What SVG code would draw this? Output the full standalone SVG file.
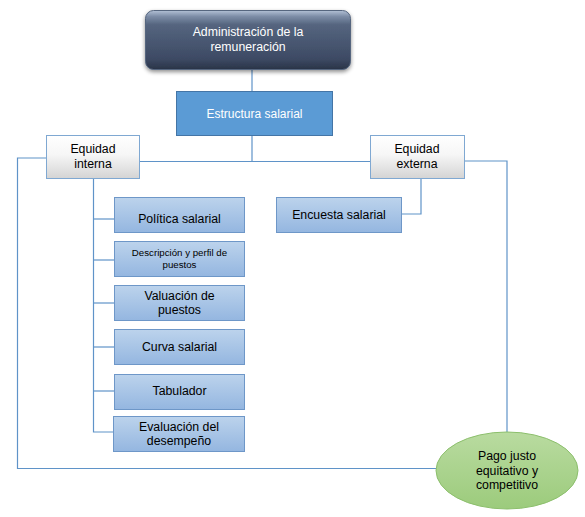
<svg xmlns="http://www.w3.org/2000/svg" width="585" height="517" viewBox="0 0 585 517">
<defs>
<linearGradient id="gTop" x1="0" y1="0" x2="0" y2="1">
<stop offset="0" stop-color="#b3c1d6"/>
<stop offset="0.1" stop-color="#7d8da7"/>
<stop offset="0.24" stop-color="#55657f"/>
<stop offset="0.82" stop-color="#3d4a64"/>
<stop offset="1" stop-color="#2a3447"/>
</linearGradient>
<linearGradient id="gEq" x1="0" y1="0" x2="0" y2="1">
<stop offset="0" stop-color="#ffffff"/>
<stop offset="0.45" stop-color="#f6f6f6"/>
<stop offset="1" stop-color="#d4d4d4"/>
</linearGradient>
<linearGradient id="gBlue" x1="0" y1="0" x2="0" y2="1">
<stop offset="0" stop-color="#bcd3ec"/>
<stop offset="1" stop-color="#94b6e0"/>
</linearGradient>
<linearGradient id="gGreen" x1="0" y1="0" x2="0" y2="1">
<stop offset="0" stop-color="#b9dba0"/>
<stop offset="1" stop-color="#9ccb7c"/>
</linearGradient>
<filter id="shadow" x="-10%" y="-10%" width="120%" height="140%">
<feGaussianBlur in="SourceAlpha" stdDeviation="2"/>
<feOffset dx="0" dy="2"/>
<feComponentTransfer><feFuncA type="linear" slope="0.45"/></feComponentTransfer>
<feMerge><feMergeNode/><feMergeNode in="SourceGraphic"/></feMerge>
</filter>
</defs>
<style>
text{font-family:"Liberation Sans",Arial,sans-serif;font-size:12.3px;text-anchor:middle;fill:#000}
.w{fill:#fff}
.conn{fill:none;stroke:#5f93c8;stroke-width:1.2}
.eq{fill:url(#gEq);stroke:#7fa8d2;stroke-width:1}
.bl{fill:url(#gBlue);stroke:#6e97c8;stroke-width:1}
.sm{font-size:9.7px}
</style>
<rect width="585" height="517" fill="#fff"/>
<g id="connectors">
<path class="conn" d="M252 69V91"/>
<path class="conn" d="M252 136V161.5H139"/>
<path class="conn" d="M252 161.5H370"/>
<path class="conn" d="M46 158H17.5V468.5H436"/>
<path class="conn" d="M464 161H507V432"/>
<path class="conn" d="M421 179V214H402"/>
<path class="conn" d="M93.5 179V432H113"/>
<path class="conn" d="M93.5 219H114"/>
<path class="conn" d="M93.5 260H114"/>
<path class="conn" d="M93.5 303H114"/>
<path class="conn" d="M93.5 347H114"/>
<path class="conn" d="M93.5 391H114"/>
</g>
<g id="n-admin">
<rect x="145.5" y="10.5" width="205" height="59" rx="8" fill="url(#gTop)" stroke="#56667f" stroke-width="1" filter="url(#shadow)"/>
<text class="w" x="248" y="36" font-size="12.2">Administración de la</text>
<text class="w" x="248" y="50.5" font-size="12.2">remuneración</text>
</g>
<g id="n-estructura">
<rect x="176.5" y="91.5" width="156" height="44" fill="#5b9bd5" stroke="#4475a6" stroke-width="1"/>
<text class="w" x="254.5" y="117.5" style="font-size:12px">Estructura salarial</text>
</g>
<g id="n-eqint">
<rect class="eq" x="46.5" y="135.5" width="93" height="43"/>
<text x="93" y="152.5">Equidad</text>
<text x="93" y="168">interna</text>
</g>
<g id="n-eqext">
<rect class="eq" x="370.5" y="135.5" width="94" height="43"/>
<text x="417" y="152.5">Equidad</text>
<text x="417" y="168">externa</text>
</g>
<g id="n-encuesta">
<rect class="bl" x="276.5" y="197.5" width="125" height="35"/>
<text x="339" y="219">Encuesta salarial</text>
</g>
<g id="n-politica">
<rect class="bl" x="114.5" y="197.5" width="130" height="35"/>
<text x="179.5" y="223">Política salarial</text>
</g>
<g id="n-descripcion">
<rect class="bl" x="114.5" y="241.5" width="130" height="35"/>
<text class="sm" x="179.5" y="256">Descripción y perfil de</text>
<text class="sm" x="179.5" y="268">puestos</text>
</g>
<g id="n-valuacion">
<rect class="bl" x="114.5" y="285.5" width="130" height="35"/>
<text x="179.5" y="300">Valuación de</text>
<text x="179.5" y="314">puestos</text>
</g>
<g id="n-curva">
<rect class="bl" x="114.5" y="329.5" width="130" height="35"/>
<text x="179.5" y="351">Curva salarial</text>
</g>
<g id="n-tabulador">
<rect class="bl" x="114.5" y="374.5" width="130" height="35"/>
<text x="179.5" y="395">Tabulador</text>
</g>
<g id="n-evaluacion">
<rect class="bl" x="113.5" y="416.5" width="131" height="35"/>
<text x="179" y="431">Evaluación del</text>
<text x="179" y="445">desempeño</text>
</g>
<g id="n-pago">
<ellipse cx="507" cy="470.5" rx="71" ry="38.5" fill="url(#gGreen)" stroke="#8cbf6c" stroke-width="1"/>
<text x="507" y="460">Pago justo</text>
<text x="507" y="475">equitativo y</text>
<text x="507" y="489">competitivo</text>
</g>
</svg>
